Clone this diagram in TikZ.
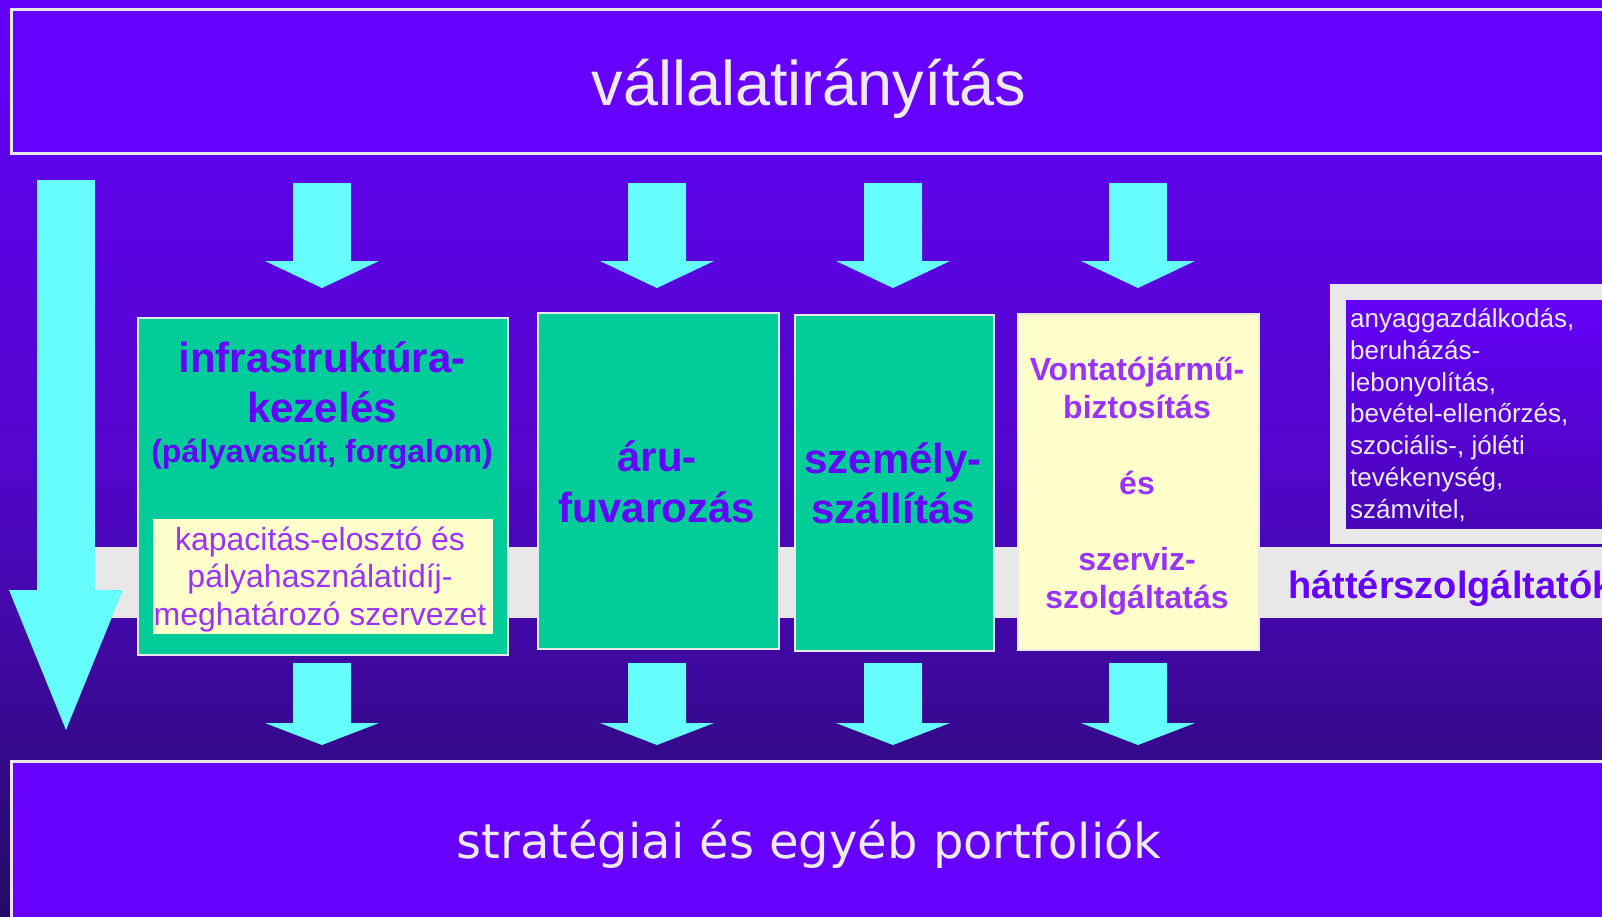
\documentclass[tikz,border=0pt]{standalone}
\usepackage{fontspec}
\setmainfont{Liberation Sans}
\newfontfamily\dejavusans{DejaVu Sans}

\definecolor{bgtop}{HTML}{6300F8}
\definecolor{bgmid}{HTML}{5206CA}
\definecolor{bgbot}{HTML}{240B66}
\definecolor{deepviolet}{HTML}{6600FF}
\definecolor{lightviolet}{HTML}{9933FF}
\definecolor{arrowcyan}{HTML}{66FFFF}
\definecolor{boxgreen}{HTML}{00CC99}
\definecolor{boxcream}{HTML}{FFFFCC}
\definecolor{bandgray}{HTML}{E8E8E8}
\definecolor{paletext}{HTML}{EEEAF2}

\tikzset{
  bigbox/.style={fill=deepviolet, draw=bandgray, line width=2.5pt},
  greenbox/.style={fill=boxgreen, draw=bandgray, line width=2pt},
  creambox/.style={fill=boxcream, draw=bandgray, line width=2pt},
  boxtitle/.style={inner sep=0pt, align=center, text=deepviolet, font=\bfseries\fontsize{42}{50}\selectfont},
  smalltitle/.style={inner sep=0pt, align=center, text=lightviolet, font=\bfseries\fontsize{32}{38}\selectfont},
}

% block arrow pointing down: x, top, neck, tip
\newcommand{\DownArrow}[4]{%
  \fill[arrowcyan] ({#1-29},#2) -- ({#1+29},#2) -- ({#1+29},#3) -- ({#1+57},#3)
    -- (#1,#4) -- ({#1-57},#3) -- ({#1-29},#3) -- cycle;}

\begin{document}
\begin{tikzpicture}[x=1pt, y=-1pt]
  \useasboundingbox (0,0) rectangle (1602,916);
  \clip (0,0) rectangle (1602,916);
  % background
  \fill[top color=bgtop, bottom color=bgmid] (0,0) rectangle (1602,470);
  \fill[top color=bgmid, bottom color=bgbot] (0,469) rectangle (1602,916);
  \fill[bandgray] (60,547) rectangle (1602,618);
  %
  \node[bigbox, anchor=north west, minimum width=1640pt, minimum height=144pt] (iranyitas) at (10,8) {};
  \node[inner sep=0pt, text=paletext, font=\fontsize{63}{70}\selectfont, anchor=base] (iranyitastext) at (809,105) {vállalatirányítás};
  \node[bigbox, anchor=north west, minimum width=1640pt, minimum height=200pt] (portfolio) at (10,760) {};
  \node[inner sep=0pt, text=paletext, font=\dejavusans\fontsize{48}{56}\selectfont, anchor=base] (portfoliotext) at (809,858) {stratégiai és egyéb portfoliók};
  %
  \node[greenbox, anchor=north west, minimum width=370pt, minimum height=337pt] (infra) at (137,317) {};
  \node[boxtitle, anchor=base] (infratext) at (322,422) {infrastruktúra-\\kezelés};
  \node[boxtitle, anchor=base, font=\bfseries\fontsize{32}{38}\selectfont] (infrasub) at (322,462) {(pályavasút, forgalom)};
  \node[fill=boxcream, anchor=north west, minimum width=340pt, minimum height=115pt] (kapacitas) at (153,519) {};
  \node[inner sep=0pt, align=center, text=lightviolet, font=\fontsize{32}{37.5}\selectfont, anchor=base] (kapacitastext) at (320,625) {kapacitás-elosztó és\\pályahasználatidíj-\\meghatározó szervezet};
  %
  \node[greenbox, anchor=north west, minimum width=241pt, minimum height=336pt] (aru) at (537,312) {};
  \node[boxtitle, font=\bfseries\fontsize{42}{51}\selectfont, anchor=base] (arutext) at (657,522) {áru-\\fuvarozás};
  \node[greenbox, anchor=north west, minimum width=199pt, minimum height=336pt] (szemely) at (794,314) {};
  \node[boxtitle, anchor=base] (szemelytext) at (893,523) {személy-\\szállítás};
  \node[creambox, anchor=north west, minimum width=241pt, minimum height=336pt] (vontato) at (1017,313) {};
  \node[smalltitle, anchor=base] (vontatotext) at (1137,608) {Vontatójármű-\\biztosítás\\[38pt]és\hspace{10pt}\\[38pt]szerviz-\\szolgáltatás};
  %
  \fill[bandgray] (1330,284) rectangle (1620,544);
  \node[top color=bgtop, bottom color=bgmid!90!black, anchor=north west, minimum width=270pt, minimum height=228pt] (hatter) at (1346,300) {};
  \node[inner sep=0pt, align=left, text=paletext, font=\fontsize{26}{31.7}\selectfont, anchor=base west] (hattertext) at (1350,518) {anyaggazdálkodás,\\beruházás-\\lebonyolítás,\\bevétel-ellenőrzés,\\szociális-, jóléti\\tevékenység,\\számvitel,};
  \node[inner sep=0pt, text=deepviolet, font=\bfseries\fontsize{38}{44}\selectfont, anchor=base west] (szolgaltatok) at (1288,598) {háttérszolgáltatók};
  %
  \DownArrow{66}{180}{590}{730}
  \foreach \ax in {322,657,893,1138} {
    \DownArrow{\ax}{183}{261}{288}
    \DownArrow{\ax}{663}{723}{745}
  }
\end{tikzpicture}
\end{document}
